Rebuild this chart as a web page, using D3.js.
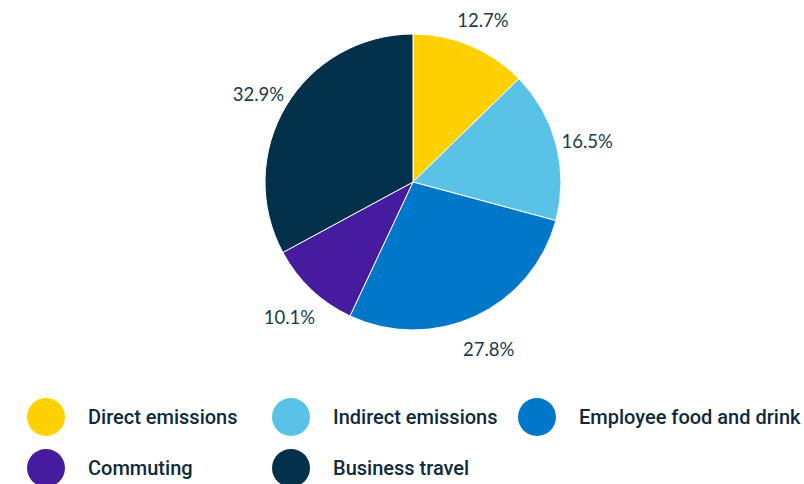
<!DOCTYPE html>
<html><head><meta charset="utf-8">
<script src="https://cdn.jsdelivr.net/npm/d3@7"></script>
<style>body{margin:0;background:#fff}</style>
</head><body>
<svg id="c" width="804" height="484"></svg>
<script>
const categories = ["Direct emissions","Indirect emissions","Employee food and drink","Commuting","Business travel"];
const values = [12.7,16.5,27.8,10.1,32.9];
const colors = ["#FFD100","#5BC2E7","#0077C8","#461B9E","#03304A"];

const svg = d3.select("#c");
const cx = 413, cy = 182, R = 148;
const pie = d3.pie().sort(null).value(d=>d)(values);
const arc = d3.arc().innerRadius(0).outerRadius(R);
const labelArc = d3.arc().innerRadius(180).outerRadius(180);
const g = svg.append("g").attr("transform",`translate(${cx},${cy})`);
g.selectAll("path").data(pie).join("path")
  .attr("d",arc).attr("fill",(d,i)=>colors[i])
  .attr("stroke","#fff").attr("stroke-width",1);
g.selectAll("text").data(pie).join("text")
  .attr("transform",d=>{const [x,y]=labelArc.centroid(d);return `translate(${x},${y+4})`;})
  .attr("text-anchor","middle").attr("dominant-baseline","central")
  .attr("font-family","Lato").attr("font-size",18.5).attr("fill","#1B3A4F")
  .text(d=>d.value.toFixed(1)+"%");

const legX = [46,291,537], legY = [417,468];
const lg = svg.append("g");
categories.forEach((c,i)=>{
  const x = legX[i%3], y = legY[Math.floor(i/3)];
  lg.append("circle").attr("cx",x).attr("cy",y).attr("r",19).attr("fill",colors[i]);
  lg.append("text").attr("x",x+42).attr("y",y).attr("dominant-baseline","central")
    .attr("font-family","Roboto").attr("font-weight",500).attr("font-size",20).attr("fill","#0E2A3D").text(c);
});
</script>
</body></html>
